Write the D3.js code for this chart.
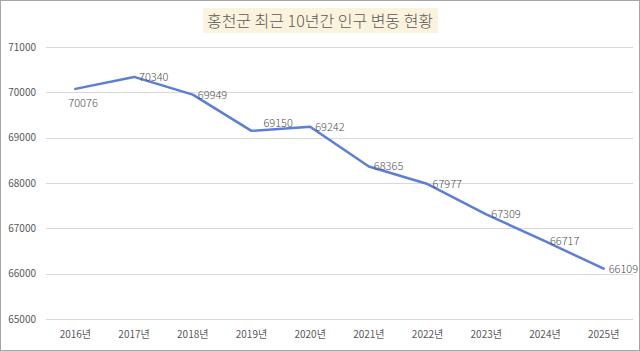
<!DOCTYPE html>
<html><head><meta charset="utf-8">
<script src="https://cdn.jsdelivr.net/npm/d3@7"></script>
<style>
html,body{margin:0;padding:0;background:#fff;}
svg{display:block;font-family:"Noto Sans CJK KR","Noto Sans",sans-serif;}
</style></head>
<body>
<svg id="c" width="640" height="351"></svg>
<script>
const title = "홍천군 최근 10년간 인구 변동 현황";
const years = ["2016년","2017년","2018년","2019년","2020년","2021년","2022년","2023년","2024년","2025년"];
const population = [70076,70340,69949,69150,69242,68365,67977,67309,66717,66109];
const yTicks = [65000,66000,67000,68000,69000,70000,71000];
const labelPlacement = ["below","right","right","above","right","right","right","right","right","right"];

const svg = d3.select("#c");
const W = 640, H = 351;
svg.append("rect").attr("x",0.5).attr("y",0.5).attr("width",W-1).attr("height",H-1)
  .attr("fill","#fff").attr("stroke","#a6a6a6").attr("stroke-width",1);

const x = d3.scaleBand().domain(years).range([46,633]);
const y = d3.scaleLinear().domain([65000,71000]).range([319,47]);

// gridlines
svg.append("g").selectAll("line").data(yTicks).join("line")
  .attr("x1",46).attr("x2",633)
  .attr("y1",d=>Math.round(y(d))+0.5).attr("y2",d=>Math.round(y(d))+0.5)
  .attr("stroke","#d9d9d9").attr("stroke-width",1);

// y axis labels
const yAxis = d3.axisLeft(y).tickValues(yTicks).tickSize(0).tickPadding(0).tickFormat(d3.format("d"));
const gy = svg.append("g").attr("transform","translate(36,0)").call(yAxis);
gy.select(".domain").remove();
gy.selectAll("text").attr("fill","#595959").style("font-size","10px").style("font-family","'Noto Sans CJK KR',sans-serif");

// x axis labels
const xAxis = d3.axisBottom(x).tickSize(0).tickPadding(0);
const gx = svg.append("g").attr("transform","translate(0,331)").call(xAxis);
gx.select(".domain").remove();
gx.selectAll("text").attr("fill","#595959").style("font-size","10px").style("font-family","'Noto Sans CJK KR',sans-serif");

// line
const cx = d => x(d) + x.bandwidth()/2;
const line = d3.line().x((d,i)=>cx(years[i])).y(d=>y(d));
svg.append("path").datum(population).attr("d",line)
  .attr("fill","none").attr("stroke","#5b7fd8").attr("stroke-width",2.5)
  .attr("stroke-linejoin","round").attr("stroke-linecap","round");

// data labels
svg.append("g").selectAll("text").data(population).join("text")
  .attr("x",(d,i)=>{
    const p = labelPlacement[i];
    if(p==="below") return cx(years[i]) - 7;
    if(p==="above") return cx(years[i]) + 12;
    return cx(years[i]) + 5;
  })
  .attr("y",(d,i)=>{
    const p = labelPlacement[i];
    if(p==="below") return y(d) + 18;
    if(p==="above") return y(d) - 4;
    return y(d) + 4;
  })
  .attr("fill","#505050").style("font-size","11px").style("font-weight","300")
  .style("font-family","'Noto Sans CJK KR',sans-serif")
  .text(d=>d);

// title
const tg = svg.append("g");
tg.append("rect").attr("x",203).attr("y",8).attr("width",235).attr("height",25).attr("fill","#fbf3dd");
tg.append("text").attr("x",320).attr("y",27).attr("text-anchor","middle")
  .attr("fill","#595959").style("font-size","16px").style("font-weight","300")
  .text(title);
</script>
</body></html>
